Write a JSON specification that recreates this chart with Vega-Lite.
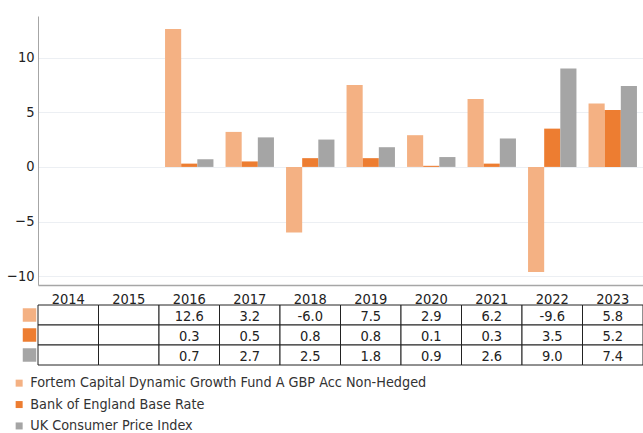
{
  "$schema": "https://vega.github.io/schema/vega-lite/v6.json",
  "padding": {"left": 6, "top": 16, "right": 0, "bottom": 0},
  "background": "white",
  "spacing": 20,
  "bounds": "flush",
  "config": {
    "view": {"stroke": null},
    "font": "DejaVu Sans Condensed",
    "axis": {"labelFont": "DejaVu Sans Condensed", "labelColor": "#222222"},
    "legend": {"labelFont": "DejaVu Sans Condensed"},
    "text": {"font": "DejaVu Sans Condensed"}
  },
  "datasets": {
    "main": [
      {"year": "2014", "series": "Fortem Capital Dynamic Growth Fund A GBP Acc Non-Hedged", "value": null},
      {"year": "2014", "series": "Bank of England Base Rate", "value": null},
      {"year": "2014", "series": "UK Consumer Price Index", "value": null},
      {"year": "2015", "series": "Fortem Capital Dynamic Growth Fund A GBP Acc Non-Hedged", "value": null},
      {"year": "2015", "series": "Bank of England Base Rate", "value": null},
      {"year": "2015", "series": "UK Consumer Price Index", "value": null},
      {"year": "2016", "series": "Fortem Capital Dynamic Growth Fund A GBP Acc Non-Hedged", "value": 12.6},
      {"year": "2016", "series": "Bank of England Base Rate", "value": 0.3},
      {"year": "2016", "series": "UK Consumer Price Index", "value": 0.7},
      {"year": "2017", "series": "Fortem Capital Dynamic Growth Fund A GBP Acc Non-Hedged", "value": 3.2},
      {"year": "2017", "series": "Bank of England Base Rate", "value": 0.5},
      {"year": "2017", "series": "UK Consumer Price Index", "value": 2.7},
      {"year": "2018", "series": "Fortem Capital Dynamic Growth Fund A GBP Acc Non-Hedged", "value": -6.0},
      {"year": "2018", "series": "Bank of England Base Rate", "value": 0.8},
      {"year": "2018", "series": "UK Consumer Price Index", "value": 2.5},
      {"year": "2019", "series": "Fortem Capital Dynamic Growth Fund A GBP Acc Non-Hedged", "value": 7.5},
      {"year": "2019", "series": "Bank of England Base Rate", "value": 0.8},
      {"year": "2019", "series": "UK Consumer Price Index", "value": 1.8},
      {"year": "2020", "series": "Fortem Capital Dynamic Growth Fund A GBP Acc Non-Hedged", "value": 2.9},
      {"year": "2020", "series": "Bank of England Base Rate", "value": 0.1},
      {"year": "2020", "series": "UK Consumer Price Index", "value": 0.9},
      {"year": "2021", "series": "Fortem Capital Dynamic Growth Fund A GBP Acc Non-Hedged", "value": 6.2},
      {"year": "2021", "series": "Bank of England Base Rate", "value": 0.3},
      {"year": "2021", "series": "UK Consumer Price Index", "value": 2.6},
      {"year": "2022", "series": "Fortem Capital Dynamic Growth Fund A GBP Acc Non-Hedged", "value": -9.6},
      {"year": "2022", "series": "Bank of England Base Rate", "value": 3.5},
      {"year": "2022", "series": "UK Consumer Price Index", "value": 9.0},
      {"year": "2023", "series": "Fortem Capital Dynamic Growth Fund A GBP Acc Non-Hedged", "value": 5.8},
      {"year": "2023", "series": "Bank of England Base Rate", "value": 5.2},
      {"year": "2023", "series": "UK Consumer Price Index", "value": 7.4}
    ]
  },
  "vconcat": [
    {
      "width": 605,
      "height": 269,
      "data": {"name": "main"},
      "mark": {"type": "bar"},
      "encoding": {
        "x": {
          "field": "year", "type": "nominal",
          "scale": {"domain": ["2014","2015","2016","2017","2018","2019","2020","2021","2022","2023"], "paddingInner": 0.2, "paddingOuter": 0.1},
          "axis": {"labels": false, "ticks": false, "title": null, "domainColor": "#a6a6a6", "domainWidth": 1.5}
        },
        "xOffset": {"field": "series", "type": "nominal", "sort": ["Fortem Capital Dynamic Growth Fund A GBP Acc Non-Hedged", "Bank of England Base Rate", "UK Consumer Price Index"]},
        "y": {
          "field": "value", "type": "quantitative",
          "scale": {"domain": [-10.8, 13.8], "nice": false, "zero": false},
          "axis": {"values": [-10, -5, 0, 5, 10], "title": null, "ticks": false, "tickSize": 0, "labelPadding": 4, "labelFontSize": 14.5, "gridColor": "#eceff3", "domainColor": "#a6a6a6"}
        },
        "color": {
          "field": "series", "type": "nominal",
          "sort": ["Fortem Capital Dynamic Growth Fund A GBP Acc Non-Hedged", "Bank of England Base Rate", "UK Consumer Price Index"],
          "scale": {"range": ["#f4b183", "#ed7d31", "#a5a5a5"]},
          "legend": {"orient": "none", "legendX": -26, "legendY": 360, "title": null, "symbolType": "square", "symbolSize": 49, "symbolStrokeWidth": 0, "labelFontSize": 14.3, "labelColor": "#333333", "rowPadding": 6.4, "labelOffset": 4, "labelLimit": 600}
        }
      }
    },
    {
      "width": 605,
      "height": 60,
      "data": {"name": "main"},
      "encoding": {
        "x": {
          "field": "year", "type": "nominal",
          "scale": {"domain": ["2014","2015","2016","2017","2018","2019","2020","2021","2022","2023"], "paddingInner": 0, "paddingOuter": 0},
          "axis": {"orient": "top", "title": null, "ticks": false, "tickSize": 0, "domain": false, "labelAngle": 0, "labelBaseline": "alphabetic", "labelPadding": 2, "labelFontSize": 14.5, "labelColor": "#222222"}
        },
        "y": {
          "field": "series", "type": "nominal",
          "sort": ["Fortem Capital Dynamic Growth Fund A GBP Acc Non-Hedged", "Bank of England Base Rate", "UK Consumer Price Index"],
          "scale": {"paddingInner": 0, "paddingOuter": 0},
          "axis": null
        }
      },
      "layer": [
        {
          "mark": {"type": "rect", "fill": "white", "stroke": "#222222", "strokeWidth": 1}
        },
        {
          "transform": [{"filter": "datum.value != null"}],
          "mark": {"type": "text", "fontSize": 14.5, "color": "#222222", "baseline": "middle", "dy": 1.5, "text": {"expr": "replace(format(datum.value, '.1f'), '\u2212', '-')"}}
        },
        {
          "transform": [{"filter": "datum.year == '2016'"}],
          "mark": {"type": "square", "size": 182, "opacity": 1, "xOffset": -8.5},
          "encoding": {
            "x": {"datum": "2014", "type": "nominal", "bandPosition": 0},
            "color": {"field": "series", "type": "nominal", "sort": ["Fortem Capital Dynamic Growth Fund A GBP Acc Non-Hedged", "Bank of England Base Rate", "UK Consumer Price Index"]}
          }
        }
      ]
    }
  ]
}
